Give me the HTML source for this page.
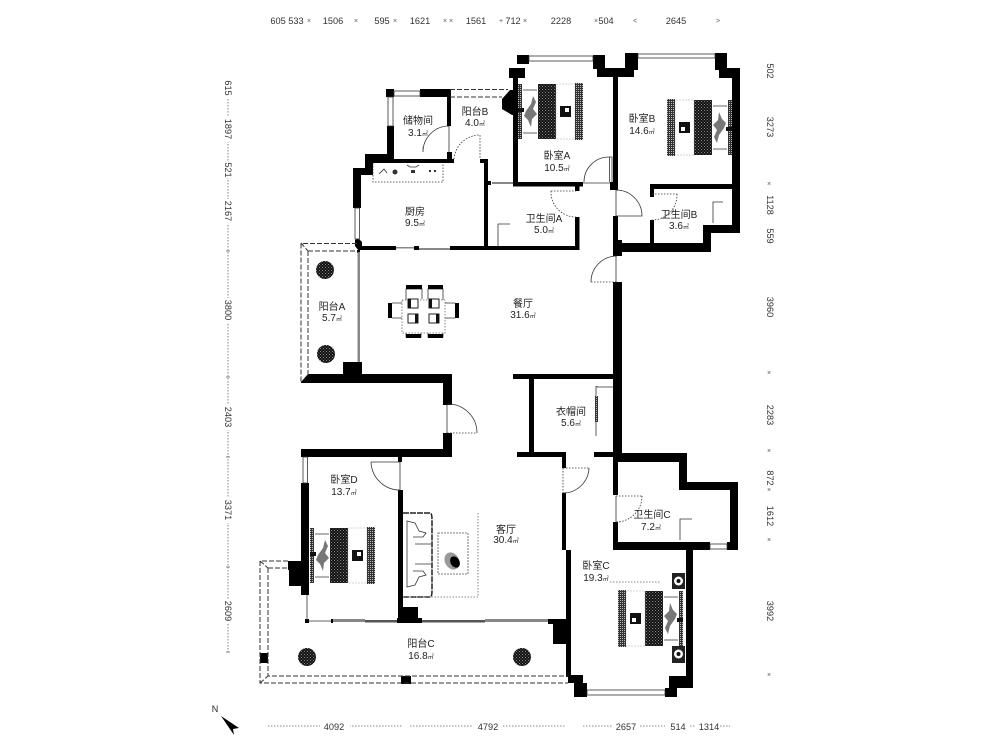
<!DOCTYPE html>
<html><head><meta charset="utf-8"><style>
html,body{margin:0;padding:0;background:#fff;width:1000px;height:750px;overflow:hidden}
svg{display:block;filter:blur(.3px)}
text{font-family:"Liberation Sans","Noto Sans CJK SC",sans-serif;fill:#222}
.l{font-size:10px;text-anchor:middle}
.d{font-size:9.2px;text-anchor:middle;fill:#333}
.u{font-size:6px}
.t{font-size:7px;text-anchor:middle;fill:#555}
.dash{fill:none;stroke:#333;stroke-width:1;stroke-dasharray:5 2}
.dot{fill:none;stroke:#666;stroke-width:.8;stroke-dasharray:1.5 1.5}
.thin{fill:none;stroke:#333;stroke-width:.8}
.gl{fill:#888}
</style></head><body>
<svg width="1000" height="750" viewBox="0 0 1000 750" xmlns="http://www.w3.org/2000/svg">
<defs>
<pattern id="sp" width="3" height="3" patternUnits="userSpaceOnUse"><rect width="3" height="3" fill="#111"/><rect x="0" y="0" width="1" height="1" fill="#888"/><rect x="1.5" y="1.5" width="1" height="1" fill="#777"/></pattern>
<pattern id="gp" width="2" height="2" patternUnits="userSpaceOnUse"><rect width="2" height="2" fill="#333"/><rect width="1" height="1" fill="#bbb"/></pattern>
<g id="bed">
<rect x="0" y="0" width="65" height="57" fill="#fff"/>
<rect x="0" y="1" width="4" height="55" fill="url(#gp)"/>
<path d="M5 7h14M5 50h14" class="thin"/>
<path d="M8 28l5-7 2-8 3 6-3 7 4 5-5 5-1 8-3-7-4-4z" fill="#777"/>
<rect x="0" y="25" width="6" height="4" fill="#111"/>
<rect x="20" y="1" width="18" height="55" fill="url(#sp)"/>
<rect x="38" y="1" width="19" height="55" fill="none" stroke="#aaa" stroke-width=".5" stroke-dasharray="2 1"/>
<rect x="42" y="23" width="11" height="11" fill="#111"/>
<rect x="47" y="25" width="4" height="4" fill="#fff"/>
<rect x="57" y="0" width="8" height="57" fill="url(#gp)"/>
</g>
<g id="plant"><circle r="9" fill="url(#sp)"/></g>
</defs>

<g fill="#000">
<rect x="517" y="55" width="12" height="9"/>
<rect x="593" y="55" width="12" height="14"/>
<rect x="597" y="68" width="37" height="9"/>
<rect x="625" y="53" width="13" height="17"/>
<rect x="509" y="68" width="16" height="10"/>
<rect x="513" y="76" width="5" height="110"/>
<path d="M502 99l8-9h7v25h-5l-10-6z"/>
<rect x="513" y="182" width="70" height="4.5"/>
<rect x="575" y="186" width="4.5" height="5"/>
<rect x="610" y="182" width="8" height="8"/>
<rect x="613" y="75" width="5" height="115"/>
<rect x="613" y="216" width="5" height="34"/>
<rect x="715" y="53" width="12" height="17"/>
<rect x="719" y="68" width="21" height="10"/>
<rect x="732" y="70" width="8" height="163"/>
<rect x="703" y="225" width="37" height="8"/>
<rect x="703" y="225" width="8" height="27"/>
<rect x="613" y="243" width="98" height="9"/>
<rect x="613" y="240" width="9" height="16"/>
<rect x="650" y="184" width="82" height="5"/>
<rect x="650" y="184" width="4" height="13"/>
<rect x="650" y="220" width="4" height="25"/>
<rect x="386" y="89" width="8" height="8"/>
<rect x="420" y="89" width="30" height="8"/>
<rect x="447" y="89" width="4" height="37"/>
<rect x="387" y="126" width="7" height="36"/>
<rect x="365" y="154" width="28" height="9"/>
<rect x="365" y="154" width="8" height="21"/>
<rect x="353" y="168" width="20" height="7"/>
<rect x="353" y="168" width="8" height="40"/>
<path d="M355 240l3-2 4 4v6l-3 3-4-5z"/>
<rect x="393" y="159" width="61" height="4"/>
<rect x="447" y="152" width="5" height="8"/>
<rect x="480" y="159" width="8" height="4"/>
<rect x="484" y="159" width="4" height="91"/>
<rect x="488" y="181" width="3" height="4"/>
<rect x="360" y="246" width="36" height="4"/>
<rect x="414" y="246" width="5" height="4"/>
<rect x="450" y="246" width="129" height="4"/>
<rect x="575" y="217" width="4.5" height="33"/>
<rect x="613" y="282" width="9" height="180"/>
<rect x="513" y="374" width="100" height="5"/>
<rect x="529" y="379" width="5" height="74"/>
<rect x="517" y="452" width="49" height="5"/>
<rect x="594" y="452" width="25" height="5"/>
<rect x="562" y="457" width="4" height="11"/>
<path d="M301 382l7-8h144v9H301z"/>
<rect x="343" y="362" width="19" height="13"/>
<rect x="443" y="374" width="9" height="31"/>
<rect x="443" y="433" width="9" height="16"/>
<rect x="301" y="449" width="151" height="8"/>
<rect x="357" y="250" width="3" height="3"/>
<rect x="301" y="483" width="8" height="112"/>
<rect x="288" y="561" width="17" height="9"/>
<rect x="289" y="570" width="16" height="16"/>
<rect x="305" y="619" width="4" height="4"/>
<rect x="398" y="457" width="4" height="5"/>
<rect x="398" y="490" width="5" height="120"/>
<rect x="398" y="607" width="20" height="13"/>
<rect x="397" y="618" width="25" height="5"/>
<rect x="331" y="619" width="2" height="4"/>
<rect x="562" y="493" width="4" height="57"/>
<rect x="566" y="550" width="5" height="127"/>
<rect x="548" y="619" width="19" height="5"/>
<rect x="553" y="624" width="14" height="20"/>
<rect x="568" y="675" width="15" height="8"/>
<rect x="574" y="683" width="13" height="14"/>
<rect x="665" y="688" width="12" height="9"/>
<rect x="669" y="676" width="24" height="12"/>
<rect x="686" y="547" width="7" height="138"/>
<rect x="613" y="542" width="97" height="8"/>
<rect x="727" y="542" width="11" height="8"/>
<rect x="730" y="482" width="8" height="68"/>
<rect x="679" y="482" width="59" height="8"/>
<rect x="679" y="453" width="8" height="37"/>
<rect x="613" y="453" width="74" height="9"/>
<rect x="613" y="460" width="5" height="35"/>
<rect x="613" y="522" width="5" height="25"/>
<rect x="260" y="653" width="8" height="10"/>
<rect x="401" y="676" width="10" height="8"/>
</g>

<g fill="#fff" stroke="#333" stroke-width=".8">
<rect x="529" y="56" width="64" height="5"/>
<rect x="638" y="54" width="77" height="4"/>
<rect x="394" y="91" width="26" height="5"/>
<rect x="388" y="97" width="5" height="29"/>
<rect x="355" y="208" width="4.5" height="31"/>
<rect x="303" y="457" width="4.5" height="26"/>
<rect x="587" y="690" width="78" height="5"/>
<rect x="710" y="544" width="17" height="5"/>
</g>
<g fill="#888">
<rect x="492" y="182" width="21" height="2"/>
<rect x="396" y="247" width="18" height="1.5"/>
<rect x="419" y="248" width="31" height="2"/>
<rect x="357.500" y="252" width="2.500" height="110"/>
<rect x="333" y="619" width="32" height="3"/>
<rect x="365" y="620" width="32" height="2.500" fill="#555"/>
<rect x="422" y="620" width="63" height="2.500" fill="#555"/>
<rect x="485" y="619" width="63" height="3"/>
</g>
<path d="M309 621h22M307 595v25M583 183h27" class="thin"/>

<path class="dash" d="M450 89.500h58M450 97h52"/>
<path class="dash" d="M357 243.500H301V382M308 251v124M308 251h49M301 243l7 8"/>
<path class="dash" d="M288 561H260V683H568M268 568v108H568M268 568h20M260 561l8 7M260 683l8-7"/>

<g class="thin">
<path d="M449 126v26M449 126A26 26 0 0 0 423 152v-5"/>
<path d="M609.500 157v25M584 182A25 25 0 0 1 609 157h3v25"/>
<path d="M616 190v26h26A26 26 0 0 0 616 190"/>
<path d="M447 405v28M447 404A29 29 0 0 1 477 433"/>
<path d="M400 462v28M371 462h29M371 462A29 29 0 0 0 400 490"/>
<path d="M616 256v26M617 256A26 26 0 0 0 591 282"/>
<path d="M589 468A26 26 0 0 1 563 493"/>
<path d="M616 496v26"/>
</g>
<g class="dot" style="stroke:#333">
<path d="M454 159A26 26 0 0 1 480 135v24"/>
<path d="M551 191h25M551 191A25 25 0 0 0 576 217"/>
<path d="M652 194h25M677 194A25 25 0 0 1 652 220"/>
<path d="M447 433h30M591 282h26"/>
<path d="M563 468h26M563 468v25"/>
<path d="M616 496h26M642 496A26 26 0 0 1 616 522"/>
</g>

<path class="thin" d="M498 246v-22h12M680 540v-21h12M713 223v-21h10"/>
<path class="dot" style="stroke:#333" d="M373 163v19h70v-19"/>
<g fill="#333"><circle cx="395" cy="172" r="2.500"/><rect x="411" y="170" width="4" height="3"/><rect x="429" y="170" width="2" height="2"/><rect x="434" y="170" width="2" height="2"/></g>
<path class="thin" d="M379 174l5-5 3 4M407 165l3 2h6l3-2"/>

<use href="#bed" x="518" y="83"/>
<use href="#bed" transform="translate(732 156) rotate(180)"/>
<use href="#bed" x="310" y="527"/>
<use href="#bed" transform="translate(683 647) rotate(180)"/>
<g>
<rect x="672" y="573" width="13" height="16" fill="#222"/><circle cx="678.500" cy="581" r="4.500" fill="#fff"/><circle cx="678.500" cy="581" r="2" fill="#111"/>
<rect x="672" y="646" width="13" height="17" fill="#222"/><circle cx="678.500" cy="654" r="4.500" fill="#fff"/><circle cx="678.500" cy="654" r="2" fill="#111"/>
</g>
<path class="dot" d="M610 582h50"/>

<use href="#plant" x="325" y="270"/>
<use href="#plant" x="326" y="354"/>
<use href="#plant" x="307" y="657"/>
<use href="#plant" x="522" y="657"/>

<g>
<rect x="402" y="300" width="43" height="33" class="dot"/>
<path class="thin" d="M406 300v-11h16v10M428 299v-10h15v11M406 333v4h15v-4M428 333v4h15v-4M392 303h10M392 318h10M445 303h10M445 318h10"/>
<g fill="#000">
<rect x="406" y="285" width="16" height="4"/><rect x="428" y="285" width="15" height="4"/>
<rect x="406" y="334" width="15" height="4"/><rect x="428" y="334" width="15" height="4"/>
<rect x="388" y="303" width="4" height="15"/><rect x="455" y="303" width="4" height="15"/>
</g>
<g fill="#fff" stroke="#222"><rect x="408" y="299" width="10" height="9"/><rect x="429" y="299" width="10" height="9"/><rect x="408" y="314" width="10" height="9"/><rect x="429" y="314" width="10" height="9"/></g>
<g fill="#111"><rect x="408" y="299" width="3" height="9"/><rect x="429" y="299" width="3" height="9"/><rect x="415" y="314" width="3" height="9"/><rect x="436" y="314" width="3" height="9"/></g>
</g>

<g>
<path d="M403 513h26c3 0 3 2 3 8v68c0 6 0 8-3 8h-26" fill="none" stroke="#222" stroke-width="1.500" stroke-dasharray="6 1"/>
<path class="thin" d="M407 538v-17l8 2 4 8 7 2-3 4-10 0M407 570v17l8-2 4-8 7-2-3-4-10 0M407 538v32M415 544h16M415 564h16"/>
<rect x="438" y="533" width="30" height="41" fill="#fff" stroke="#555" stroke-width=".8" stroke-dasharray="2 1"/>
<ellipse cx="452" cy="561" rx="7" ry="9" fill="#999" transform="rotate(-30 452 561)"/>
<ellipse cx="455" cy="562" rx="4.500" ry="6" fill="#000" transform="rotate(-30 455 562)"/>
<path class="dot" d="M478 513v84H403"/>
</g>

<path class="thin" d="M613 387h-16v-1M596 386v50"/>
<rect x="595" y="396" width="3" height="26" fill="url(#gp)"/>

<text class="l" x="418" y="124">储物间</text><text class="l" x="418" y="136">3.1<tspan class="u">㎡</tspan></text>
<text class="l" x="475" y="115">阳台B</text><text class="l" x="475" y="126">4.0<tspan class="u">㎡</tspan></text>
<text class="l" x="557" y="159">卧室A</text><text class="l" x="557" y="171">10.5<tspan class="u">㎡</tspan></text>
<text class="l" x="642" y="122">卧室B</text><text class="l" x="642" y="134">14.6<tspan class="u">㎡</tspan></text>
<text class="l" x="415" y="215">厨房</text><text class="l" x="415" y="226">9.5<tspan class="u">㎡</tspan></text>
<text class="l" x="544" y="222">卫生间A</text><text class="l" x="544" y="233">5.0<tspan class="u">㎡</tspan></text>
<text class="l" x="679" y="218">卫生间B</text><text class="l" x="679" y="229">3.6<tspan class="u">㎡</tspan></text>
<text class="l" x="523" y="307">餐厅</text><text class="l" x="523" y="318">31.6<tspan class="u">㎡</tspan></text>
<text class="l" x="332" y="310">阳台A</text><text class="l" x="332" y="321">5.7<tspan class="u">㎡</tspan></text>
<text class="l" x="571" y="415">衣帽间</text><text class="l" x="571" y="426">5.6<tspan class="u">㎡</tspan></text>
<text class="l" x="344" y="483">卧室D</text><text class="l" x="344" y="495">13.7<tspan class="u">㎡</tspan></text>
<text class="l" x="506" y="533">客厅</text><text class="l" x="506" y="543">30.4<tspan class="u">㎡</tspan></text>
<text class="l" x="421" y="647">阳台C</text><text class="l" x="421" y="659">16.8<tspan class="u">㎡</tspan></text>
<text class="l" x="596" y="569">卧室C</text><text class="l" x="596" y="581">19.3<tspan class="u">㎡</tspan></text>
<text class="l" x="652" y="518">卫生间C</text><text class="l" x="651" y="530">7.2<tspan class="u">㎡</tspan></text>

<g>
<text class="d" x="287" y="24">605 533</text><text class="d" x="333" y="24">1506</text><text class="d" x="382" y="24">595</text><text class="d" x="420" y="24">1621</text><text class="d" x="476" y="24">1561</text><text class="d" x="513" y="24">712</text><text class="d" x="561" y="24">2228</text><text class="d" x="606" y="24">504</text><text class="d" x="676" y="24">2645</text>
<text class="t" x="309" y="23">×</text><text class="t" x="356" y="23">×</text><text class="t" x="395" y="23">×</text><text class="t" x="445" y="23">×</text><text class="t" x="451" y="23">×</text><text class="t" x="501" y="23">+</text><text class="t" x="525" y="23">×</text><text class="t" x="596" y="23">×</text><text class="t" x="635" y="23">&lt;</text><text class="t" x="718" y="23">&gt;</text>
</g>

<path class="dot" d="M228 78v574"/>
<g fill="#fff">
<rect x="222" y="78" width="12" height="20"/><rect x="222" y="117" width="12" height="25"/><rect x="222" y="162" width="12" height="16"/><rect x="222" y="199" width="12" height="25"/><rect x="222" y="298" width="12" height="25"/><rect x="222" y="405" width="12" height="25"/><rect x="222" y="498" width="12" height="25"/><rect x="222" y="599" width="12" height="25"/>
</g>
<path class="thin" style="stroke:#666" d="M226 251h4M226 377h4M226 457h4M226 567h4M226 652h4"/>
<g>
<text class="d" transform="translate(225 88) rotate(90)" x="0" y="0">615</text>
<text class="d" transform="translate(225 129) rotate(90)">1897</text>
<text class="d" transform="translate(225 170) rotate(90)">521</text>
<text class="d" transform="translate(225 211) rotate(90)">2167</text>
<text class="d" transform="translate(225 310) rotate(90)">3800</text>
<text class="d" transform="translate(225 417) rotate(90)">2403</text>
<text class="d" transform="translate(225 510) rotate(90)">3371</text>
<text class="d" transform="translate(225 611) rotate(90)">2609</text>
</g>

<g>
<text class="d" transform="translate(767 71) rotate(90)">502</text>
<text class="d" transform="translate(767 127) rotate(90)">3273</text>
<text class="d" transform="translate(767 205) rotate(90)">1128</text>
<text class="d" transform="translate(767 236) rotate(90)">559</text>
<text class="d" transform="translate(767 307) rotate(90)">3960</text>
<text class="d" transform="translate(767 415) rotate(90)">2283</text>
<text class="d" transform="translate(767 478) rotate(90)">872</text>
<text class="d" transform="translate(767 516) rotate(90)">1612</text>
<text class="d" transform="translate(767 611) rotate(90)">3992</text>
<g class="t"><text class="t" x="769" y="186">×</text><text class="t" x="769" y="375">×</text><text class="t" x="769" y="453">×</text><text class="t" x="769" y="492">×</text><text class="t" x="769" y="542">×</text><text class="t" x="769" y="677">×</text></g>
</g>

<path class="dot" d="M268 726h134M410 726h155M583 726h82M690 726h5M720 726h10"/>
<g fill="#fff"><rect x="320" y="720" width="30" height="12"/><rect x="473" y="720" width="30" height="12"/><rect x="612" y="720" width="28" height="12"/><rect x="668" y="720" width="20" height="12"/></g>
<text class="d" x="334" y="730">4092</text>
<text class="d" x="488" y="730">4792</text>
<text class="d" x="626" y="730">2657</text>
<text class="d" x="678" y="730">514</text>
<text class="d" x="709" y="730">1314</text>

<text x="215" y="712" style="font-size:9px;text-anchor:middle">N</text>
<path d="M221 716l18 12-6 1 1 6z" fill="#000"/>
</svg>
</body></html>
